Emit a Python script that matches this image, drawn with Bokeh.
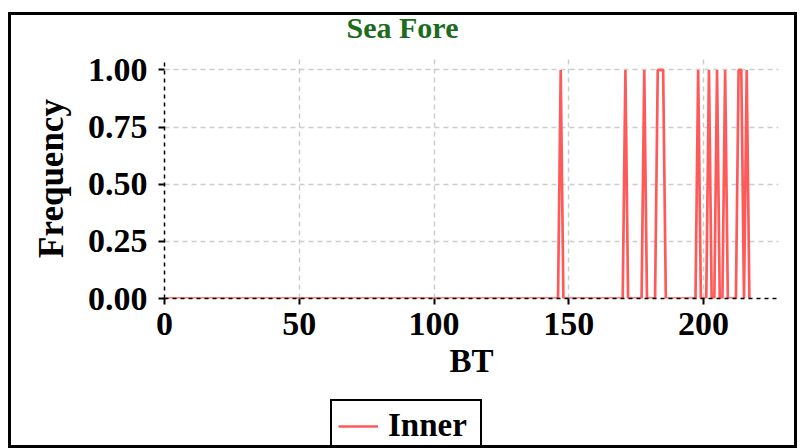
from bokeh.plotting import figure
from bokeh.layouts import column
from bokeh.models import Legend, LegendItem, Range1d, FixedTicker, NumeralTickFormatter, Div
from bokeh.embed import file_html
from bokeh.resources import INLINE

# Data
title_text = "Sea Fore"
series_name = "Inner"
bt_start, bt_end = 0, 217
peak_bt = [147, 171, 178, 183, 184, 185, 198, 202, 205, 208, 213, 214, 216]
peak_freq = [1.0] * len(peak_bt)
x_ticks = [0, 50, 100, 150, 200]
y_ticks = [0.0, 0.25, 0.5, 0.75, 1.0]

bt = list(range(bt_start, bt_end + 1))
peak_map = dict(zip(peak_bt, peak_freq))
freq = [peak_map.get(v, 0.0) for v in bt]

FONT = "Liberation Serif"
LINE_COLOR = "#ff5a5a"
W = 783

# Title strip
title_div = Div(
    text=('<div style="width:%dpx;text-align:center;font-family:\'Liberation Serif\';'
          'font-weight:bold;font-size:30px;line-height:26px;color:#1d6b1d;'
          'margin:0;padding:0;">%s</div>') % (W, title_text),
    width=W, height=35, margin=0)

p = figure(width=W, height=345, output_backend="svg", toolbar_location=None,
           x_range=Range1d(0, 227.8), y_range=Range1d(0, 1.05),
           min_border_left=153, min_border_right=16, min_border_top=8,
           min_border_bottom=97,
           background_fill_color="white", border_fill_color="white")
p.outline_line_color = None

r = p.line(bt, freq, line_color=LINE_COLOR, line_width=2.7)

for ax in (p.xaxis[0], p.yaxis[0]):
    ax.axis_line_color = "black"
    ax.axis_line_dash = "4 4"
    ax.axis_line_width = 1.5
    ax.major_tick_out = 6
    ax.major_tick_in = 0
    ax.major_tick_line_width = 2
    ax.minor_tick_line_color = None
    ax.major_label_text_font = FONT
    ax.major_label_text_font_style = "bold"
    ax.major_label_text_font_size = "34px"
    ax.major_label_text_color = "black"
    ax.axis_label_text_font = FONT
    ax.axis_label_text_font_style = "bold"
    ax.axis_label_text_color = "black"

p.xaxis.axis_label = "BT"
p.yaxis.axis_label = "Frequency"
p.xaxis.axis_label_text_font_size = "33px"
p.yaxis.axis_label_text_font_size = "35px"
p.xaxis.ticker = FixedTicker(ticks=x_ticks)
p.yaxis.ticker = FixedTicker(ticks=y_ticks)
p.yaxis.formatter = NumeralTickFormatter(format="0.00")
p.xaxis.major_label_standoff = 8
p.yaxis.major_label_standoff = 11
p.xaxis.axis_label_standoff = 5
p.yaxis.axis_label_standoff = 14

p.grid.grid_line_color = "#cccccc"
p.grid.grid_line_dash = "5 4"
p.grid.grid_line_width = 1.5

# Legend strip below the plot (own small figure, no axes)
p2 = figure(width=W, height=50, output_backend="svg", toolbar_location=None,
            x_range=Range1d(-20, -10), y_range=Range1d(-20, -10),
            x_axis_location=None, y_axis_location=None,
            min_border_left=0, min_border_right=0, min_border_top=0,
            min_border_bottom=0,
            background_fill_color="white", border_fill_color="white")
p2.outline_line_color = None
p2.grid.visible = False
r2 = p2.line(bt, freq, line_color=LINE_COLOR, line_width=2.7)

legend = Legend(items=[LegendItem(label=series_name, renderers=[r2])],
                location=(166, -7), orientation="horizontal",
                label_text_font=FONT, label_text_font_style="bold",
                label_text_font_size="33px", label_text_color="black",
                label_text_line_height=1.0, label_width=86,
                border_line_color="black", border_line_width=2.5,
                border_line_alpha=1.0, background_fill_alpha=1.0,
                padding=6, margin=0, glyph_width=40, label_standoff=10)
p2.add_layout(legend, "center")

layout = column(title_div, p, p2, spacing=0, margin=(12, 0, 0, 8),
                styles={"border": "3px solid black", "background": "white"})

open("out.html", "w").write(file_html(layout, INLINE))
